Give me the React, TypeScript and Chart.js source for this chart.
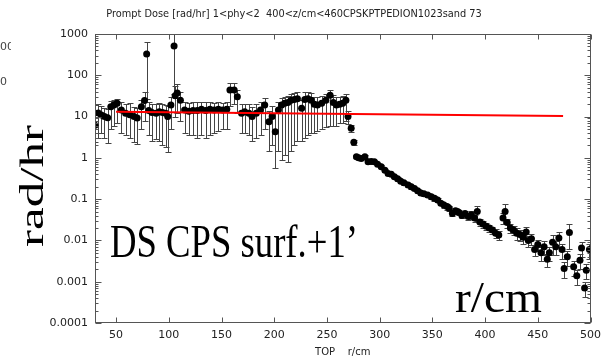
import React, { useEffect, useRef } from "react";
import { Chart, registerables } from "chart.js";

Chart.register(...registerables);

const TITLE = "Prompt Dose [rad/hr] 1<phy<2  400<z/cm<460CPSKPTPEDION1023sand 73";
const X_TITLE = "TOP    r/cm";
const Y_OVERLAY = "rad/hr";
const NOTE_OVERLAY = "DS CPS surf.+1\u2019";
const X_OVERLAY = "r/cm";

const xTicks = [50, 100, 150, 200, 250, 300, 350, 400, 450, 500];
const yTicks = [0.0001, 0.001, 0.01, 0.1, 1, 10, 100, 1000];
const yTickLabels = ["0.0001", "0.001", "0.01", "0.1", "1", "10", "100", "1000"];

// plateau region (r < 270): value with asymmetric error bars
const plateauR = [
  30, 33, 36, 39, 42, 45, 48, 51, 55, 59,
  63, 67, 70, 74, 77, 79, 81, 84, 88, 91,
  94, 97, 99, 102, 105, 106, 108, 111, 115, 119,
  123, 127, 131, 135, 139, 143, 147, 151, 155, 158,
  162, 165, 169, 172, 176, 179, 183, 187, 191, 195,
  198, 201, 204, 207, 210, 213, 216, 219, 222, 226,
  229, 232, 235, 238, 241, 245, 249, 253, 256, 259,
  262, 265, 268,
];
const plateauV = [
  6.2, 12.2, 10.9, 10, 9.3, 17.3, 19, 21, 14.4, 12,
  11, 10, 9.2, 17.3, 24.6, 330, 14, 12.5, 12, 13,
  12.5, 12, 10, 19, 512, 32, 37, 25, 14.5, 13.5,
  14, 14, 15, 14, 15, 14.5, 15, 14.5, 15, 44,
  44, 30, 12, 13, 12, 10, 12, 14.5, 19, 7.5,
  10, 4.3, 14.5, 19, 21, 22, 25, 26, 27, 16,
  26, 27, 25, 20, 19, 21, 25, 33, 22, 19,
  20, 21, 25,
];
const plateauLo = [
  2.4, 3, 4, 3, 2.3, 5, 6, 7, 4, 3.5,
  3, 2.4, 2.2, 5, 8, 26, 3.5, 2.5, 2.8, 2.6,
  2, 1.8, 1.4, 5, 35, 10, 12, 8, 4, 3.5,
  3.5, 3, 3.5, 3, 3.5, 4, 4.5, 5, 5, 18,
  20, 12, 4, 4, 3.5, 2.5, 3, 3.5, 5, 1.5,
  2, 0.57, 1.5, 0.9, 1.2, 0.8, 1.5, 2, 2.5, 2.5,
  3, 3.5, 4, 4, 4.5, 5, 5.5, 6, 6, 6,
  7, 7, 8,
];
const plateauHi = [
  19, 20, 18, 16, 15, 24, 25, 27, 22, 20,
  21, 17, 16, 25, 40, 650, 22, 20, 20, 21,
  20, 19, 18, 30, 1000, 55, 60, 40, 22, 21,
  22, 22, 22, 22, 22, 21, 22, 21, 22, 66,
  66, 45, 20, 20, 20, 17, 20, 22, 28, 14,
  18, 12, 22, 28, 30, 32, 36, 38, 40, 25,
  40, 40, 38, 30, 30, 32, 36, 45, 34, 30,
  30, 32, 36,
];

// falling tail (r >= 270): value with relative error
const tailR = [
  270, 273, 275.5, 278, 280, 282.5, 286, 289, 292, 295,
  298, 301.5, 305, 308, 311, 314, 317, 320, 323, 327,
  330, 333, 336, 339, 342, 345.5, 349, 352, 355, 358,
  361, 364, 366, 369, 372, 375, 378, 381, 384, 387,
  390, 392.6, 395, 398, 401, 404, 407, 410, 413, 417,
  419, 421, 424, 427, 430, 433, 436, 439, 441, 444,
  447, 450, 453, 456, 459, 461, 464, 467, 470, 473,
  475, 478, 480, 484, 487, 490, 491.5, 494.4, 496, 499,
];
const tailV = [
  10, 5.2, 2.4, 1.07, 1.0, 0.96, 1.07, 0.8, 0.82, 0.8,
  0.7, 0.61, 0.5, 0.42, 0.4, 0.35, 0.31, 0.27, 0.25, 0.22,
  0.2, 0.18, 0.16, 0.14, 0.135, 0.126, 0.115, 0.105, 0.095, 0.08,
  0.072, 0.066, 0.06, 0.045, 0.052, 0.048, 0.04, 0.045, 0.038, 0.042,
  0.035, 0.05, 0.028, 0.025, 0.022, 0.02, 0.018, 0.015, 0.0135, 0.035,
  0.05, 0.027, 0.02, 0.018, 0.015, 0.014, 0.012, 0.016, 0.01, 0.011,
  0.006, 0.008, 0.005, 0.007, 0.0035, 0.005, 0.009, 0.007, 0.0115, 0.006,
  0.0021, 0.004, 0.0155, 0.0023, 0.0014, 0.0033, 0.0066, 0.0007, 0.0019, 0.006,
];
const tailErr = [
  0.35, 0.2, 0.15, 0.08, 0.08, 0.08, 0.08, 0.08, 0.08, 0.08,
  0.08, 0.08, 0.08, 0.08, 0.08, 0.08, 0.1, 0.1, 0.1, 0.1,
  0.1, 0.1, 0.1, 0.1, 0.12, 0.12, 0.12, 0.12, 0.12, 0.12,
  0.15, 0.15, 0.15, 0.15, 0.15, 0.15, 0.15, 0.15, 0.2, 0.2,
  0.2, 0.4, 0.2, 0.2, 0.2, 0.2, 0.2, 0.25, 0.25, 0.3,
  0.5, 0.25, 0.25, 0.25, 0.3, 0.3, 0.3, 0.3, 0.3, 0.3,
  0.3, 0.3, 0.35, 0.35, 0.35, 0.35, 0.5, 0.35, 0.4, 0.4,
  0.4, 0.4, 0.6, 0.4, 0.4, 0.4, 0.4, 0.4, 0.4, 0.4,
];

// red fit line
const fitR = [50, 474];
const fitV = [13.1, 10.3];

type Pt = { x: number; y: number; lo: number; hi: number };

const points: Pt[] = [
  ...plateauR.map((r, i) => ({ x: r, y: plateauV[i], lo: plateauLo[i], hi: plateauHi[i] })),
  ...tailR.map((r, i) => ({
    x: r,
    y: tailV[i],
    lo: tailV[i] * (1 - tailErr[i]),
    hi: tailV[i] * (1 + tailErr[i]),
  })),
];

const errorBarsPlugin = {
  id: "errorBars",
  beforeDatasetsDraw(chart: any) {
    const { ctx, chartArea: a, scales } = chart;
    const xs = scales.x;
    const ys = scales.y;
    ctx.save();
    ctx.beginPath();
    ctx.rect(a.left, a.top, a.right - a.left, a.bottom - a.top);
    ctx.clip();
    ctx.strokeStyle = "#444";
    ctx.lineWidth = 1;
    for (const p of points) {
      const px = Math.round(xs.getPixelForValue(p.x)) + 0.5;
      const yl = Math.round(ys.getPixelForValue(p.lo)) + 0.5;
      const yh = Math.round(ys.getPixelForValue(p.hi)) + 0.5;
      ctx.beginPath();
      ctx.moveTo(px, yl);
      ctx.lineTo(px, yh);
      ctx.moveTo(px - 3, yl);
      ctx.lineTo(px + 3, yl);
      ctx.moveTo(px - 3, yh);
      ctx.lineTo(px + 3, yh);
      ctx.stroke();
    }
    ctx.restore();
  },
};

const framePlugin = {
  id: "frame",
  afterDatasetsDraw(chart: any) {
    const { ctx, chartArea: a, scales } = chart;
    const xs = scales.x;
    const ys = scales.y;
    ctx.save();
    ctx.strokeStyle = "#555";
    ctx.lineWidth = 1;
    const L = Math.round(a.left) + 0.5;
    const R = Math.round(a.right) - 0.5;
    const T = Math.round(a.top) + 0.5;
    const B = Math.round(a.bottom) - 0.5;
    ctx.strokeRect(L, T, R - L, B - T);
    ctx.beginPath();
    for (const v of xTicks) {
      const px = Math.round(xs.getPixelForValue(v)) + 0.5;
      ctx.moveTo(px, B);
      ctx.lineTo(px, B - 5);
      ctx.moveTo(px, T);
      ctx.lineTo(px, T + 5);
    }
    for (let d = 0; d < yTicks.length; d++) {
      const dec = yTicks[d];
      const py = Math.round(ys.getPixelForValue(dec)) + 0.5;
      ctx.moveTo(L, py);
      ctx.lineTo(L + 6, py);
      ctx.moveTo(R, py);
      ctx.lineTo(R - 6, py);
      if (d < yTicks.length - 1) {
        for (let m = 2; m <= 9; m++) {
          const my = Math.round(ys.getPixelForValue(dec * m)) + 0.5;
          ctx.moveTo(L, my);
          ctx.lineTo(L + 3, my);
          ctx.moveTo(R, my);
          ctx.lineTo(R - 3, my);
        }
      }
    }
    ctx.stroke();
    ctx.restore();
  },
};

function fittedText(
  ctx: CanvasRenderingContext2D,
  text: string,
  font: string,
  x: number,
  y: number,
  width: number,
  scaleY: number,
  angle: number
) {
  ctx.save();
  ctx.font = font;
  const w = ctx.measureText(text).width;
  ctx.translate(x, y);
  ctx.rotate(angle);
  ctx.scale(width / w, scaleY);
  ctx.textAlign = "left";
  ctx.textBaseline = "alphabetic";
  ctx.fillText(text, 0, 0);
  ctx.restore();
}

const textPlugin = {
  id: "texts",
  afterDraw(chart: any) {
    const { ctx, chartArea: a } = chart;
    ctx.save();
    // title
    ctx.fillStyle = "#222";
    ctx.font = "10px 'DejaVu Sans'";
    const tw = ctx.measureText(TITLE).width;
    const ts = (10 * 376) / tw;
    ctx.font = `${ts}px 'DejaVu Sans'`;
    ctx.textAlign = "center";
    ctx.textBaseline = "middle";
    ctx.fillText(TITLE, 294, 14);
    // x axis title
    ctx.font = "10px 'DejaVu Sans'";
    ctx.fillText(X_TITLE, (a.left + a.right) / 2, 352);
    // fragments at the left edge
    ctx.save();
    ctx.beginPath();
    ctx.rect(0, 0, 11, 362);
    ctx.clip();
    ctx.fillStyle = "#444";
    ctx.font = "11px 'DejaVu Sans'";
    ctx.textAlign = "left";
    ctx.fillText("00", 0, 47);
    ctx.fillText("0", 0, 82);
    ctx.restore();
    // big overlay texts
    ctx.fillStyle = "#000";
    fittedText(ctx, Y_OVERLAY, "33px 'Liberation Serif'", 43, 247, 122, 1, -Math.PI / 2);
    fittedText(ctx, NOTE_OVERLAY, "36px 'Liberation Serif'", 110, 257, 248, 1.3, 0);
    fittedText(ctx, X_OVERLAY, "44px 'Liberation Serif'", 455, 312, 87, 1, 0);
    ctx.restore();
  },
};

export default function App() {
  const ref = useRef<HTMLCanvasElement | null>(null);

  useEffect(() => {
    const canvas = ref.current;
    if (!canvas) return;
    const chart = new Chart(canvas, {
      type: "scatter",
      data: {
        datasets: [
          {
            type: "line",
            data: fitR.map((r, i) => ({ x: r, y: fitV[i] })),
            borderColor: "#ff0000",
            borderWidth: 2,
            pointRadius: 0,
            fill: false,
            order: 0,
          } as any,
          {
            type: "scatter",
            data: points.map((p) => ({ x: p.x, y: p.y })),
            backgroundColor: "#000",
            borderColor: "#000",
            borderWidth: 0,
            pointRadius: 3.5,
            order: 1,
          } as any,
        ],
      },
      options: {
        animation: false,
        responsive: false,
        devicePixelRatio: 1,
        layout: { padding: { left: 0, right: 13, top: 34, bottom: 0 } },
        plugins: {
          legend: { display: false },
          tooltip: { enabled: false },
          title: { display: false },
        },
        scales: {
          x: {
            type: "linear",
            min: 30,
            max: 500,
            afterBuildTicks: (s: any) => {
              s.ticks = xTicks.map((v) => ({ value: v }));
            },
            afterFit: (s: any) => {
              s.height = 39;
            },
            grid: { display: false, drawTicks: false },
            border: { display: false },
            ticks: {
              padding: 6,
              color: "#222",
              font: { family: "'DejaVu Sans'", size: 11 },
              maxRotation: 0,
              autoSkip: false,
            },
          },
          y: {
            type: "logarithmic",
            min: 0.0001,
            max: 1000,
            afterBuildTicks: (s: any) => {
              s.ticks = yTicks.map((v) => ({ value: v }));
            },
            afterFit: (s: any) => {
              s.width = 95;
            },
            grid: { display: false, drawTicks: false },
            border: { display: false },
            ticks: {
              padding: 7,
              color: "#222",
              font: { family: "'DejaVu Sans'", size: 11 },
              autoSkip: false,
              callback: (_v: any, i: number) => yTickLabels[i],
            },
          },
        },
      } as any,
      plugins: [errorBarsPlugin, framePlugin, textPlugin],
    });
    return () => chart.destroy();
  }, []);

  return (
    <div style={{ position: "fixed", left: 0, top: 0, width: 607, height: 362, background: "#fff" }}>
      <canvas ref={ref} width={607} height={362} style={{ display: "block" }} />
    </div>
  );
}
